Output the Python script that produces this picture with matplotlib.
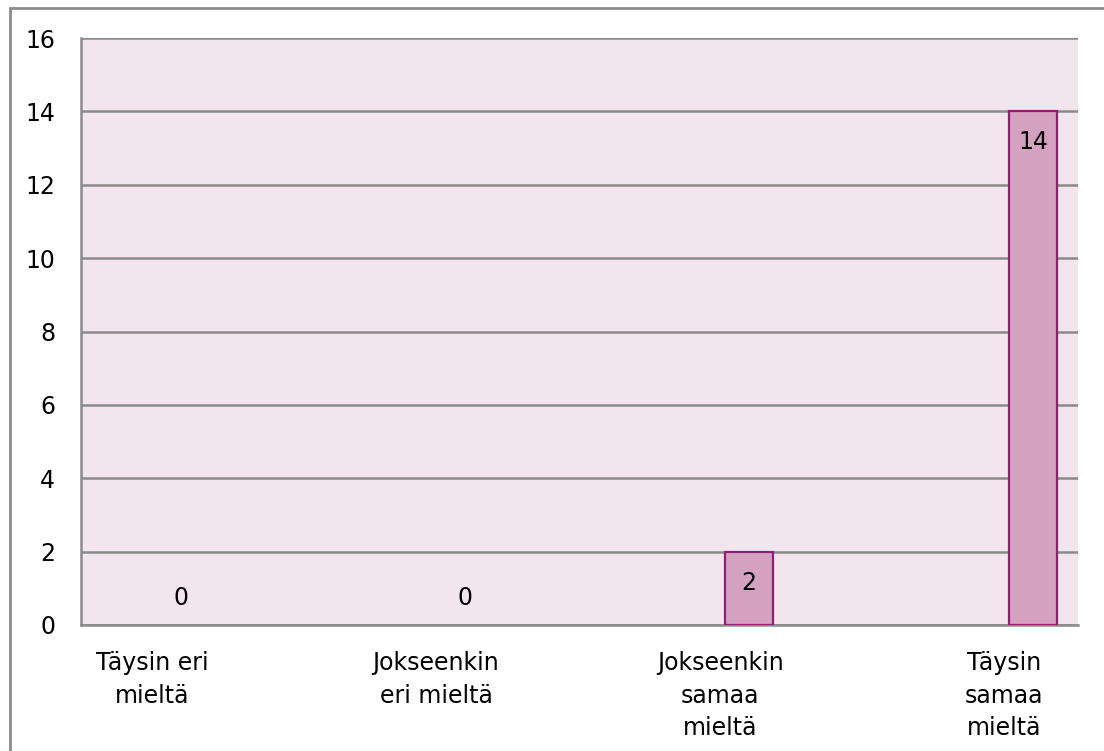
import matplotlib
matplotlib.use("Agg")
import matplotlib.pyplot as plt
from matplotlib.patches import Rectangle
from matplotlib.transforms import ScaledTranslation

categories = ["Täysin eri\nmieltä", "Jokseenkin\neri mieltä", "Jokseenkin\nsamaa\nmieltä", "Täysin\nsamaa\nmieltä"]
counts = [0, 0, 2, 14]
y_ticks = [0, 2, 4, 6, 8, 10, 12, 14, 16]

W, H, DPI = 1104, 751, 100
PX = 72 / DPI  # points per pixel
fig = plt.figure(figsize=(W / DPI, H / DPI), dpi=DPI)
plt.rcParams["font.family"] = ["DejaVu Sans"]

# outer chart frame (runs off the right and bottom edges)
fig.patches.append(Rectangle((10 / W, -0.05), 1.2, (H - 8) / H + 0.05,
                             transform=fig.transFigure, fill=False,
                             edgecolor="#8c8c8c", linewidth=2, zorder=0))

ax = fig.add_axes([81 / W, (H - 625) / H, (1078 - 81) / W, (625 - 38) / H])
ax.set_facecolor("#f2e5ee")

x = list(range(len(categories)))
bars = ax.bar(x, counts, width=0.169, color="#d4a1c1", edgecolor="#8e1f72",
              linewidth=1.6, zorder=3)
for b, v in zip(bars, counts):
    if v == 0:
        b.set_visible(False)

ax.set_xlim(-0.352, 3.158)
ax.set_ylim(0, 16)
ax.set_yticks(y_ticks)
ax.yaxis.grid(True, color="#8a8a8a", linewidth=1.8, zorder=1)
ax.set_axisbelow(True)

for side in ("top", "right"):
    ax.spines[side].set_visible(False)
for side in ("left", "bottom"):
    ax.spines[side].set_color("#8a8a8a")
    ax.spines[side].set_linewidth(1.8)

ax.tick_params(axis="y", length=0, pad=26 * PX, labelsize=17)
ax.tick_params(axis="x", length=0, pad=26 * PX, labelsize=17)
ax.set_xticks(x)
ax.set_xticklabels(categories, linespacing=1.45)
shift = ScaledTranslation(-29 / DPI, 0, fig.dpi_scale_trans)
for lab in ax.get_xticklabels():
    lab.set_transform(lab.get_transform() + shift)

for xi, v in zip(x, counts):
    dy = -31 if v > 0 else 27
    ax.annotate(str(v), (xi, v), xytext=(0, dy * PX),
                textcoords="offset points", ha="center", va="center",
                fontsize=17, zorder=4)

fig.savefig("out.png", dpi=DPI, facecolor="white")
